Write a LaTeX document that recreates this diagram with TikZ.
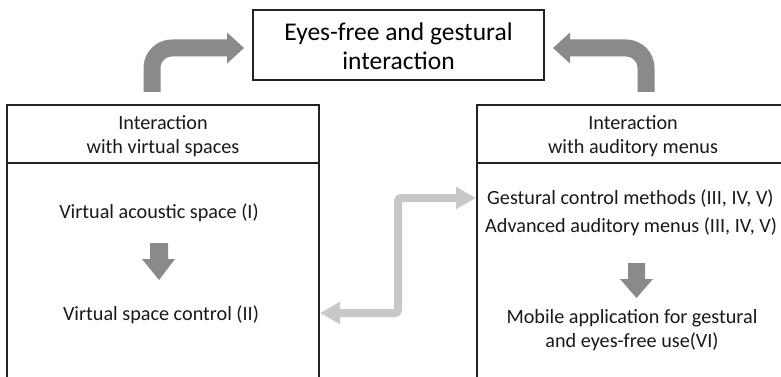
\documentclass[tikz,border=0pt]{standalone}
\usepackage{fontspec}
\setmainfont{Carlito}
\usetikzlibrary{arrows.meta}
\definecolor{darkarrow}{HTML}{8A8A8A}
\definecolor{lightarrow}{HTML}{C8C8C8}
\definecolor{boxline}{HTML}{222222}
\begin{document}
\begin{tikzpicture}[x=1pt,y=-1pt,
  boxframe/.style={draw=boxline,line width=1.4pt},
  bodytext/.style={font=\fontsize{20.2}{24}\selectfont,inner sep=0pt,align=center,text=black!90},
  titletext/.style={font=\fontsize{25.5}{29}\selectfont,inner sep=0pt,align=center},
  bentarrow/.style={darkarrow,line width=17pt,rounded corners=20pt,
    -{Triangle[length=17pt 0 0,width=30pt 0 0]}},
  linkarrow/.style={lightarrow,line width=8pt,rounded corners=3pt,
    {Triangle[length=20pt 0 0,width=21pt 0 0]}-{Triangle[length=20pt 0 0,width=21pt 0 0]}},
]
\useasboundingbox (0,0) rectangle (781,377);
\fill[white] (0,0) rectangle (781,377);

% title box
\draw[boxframe] (253,10) rectangle (544,80);
\node[titletext] (title) at (398.5,46) {Eyes-free and gestural\\interaction};
\coordinate (tl) at (244,48);
\coordinate (tr) at (553,48);

% left box
\draw[boxframe] (7,105) rectangle (319,400);
\draw[boxframe] (7,163) -- (319,163);
\node[bodytext] (lhead) at (163,136) {Interaction\\with virtual spaces};
\node[bodytext] (vas) at (159,213) {Virtual acoustic space (I)};
\node[bodytext] (vsc) at (161,315) {Virtual space control (II)};

% right box
\draw[boxframe] (477,105) rectangle (790,400);
\draw[boxframe] (477,163) -- (790,163);
\node[bodytext] (rhead) at (633,136) {Interaction\\with auditory menus};
\node[bodytext,anchor=west] (gcm) at (487,199) {Gestural control methods (III, IV, V)};
\node[bodytext,anchor=west] (aam) at (485,227) {Advanced auditory menus (III, IV, V)};
\node[bodytext] (mob) at (632,330) {Mobile application for gestural\\and eyes-free use(VI)};

% bent arrows to title
\coordinate (lb) at (152,92);
\coordinate (rb) at (646,92);
\draw[bentarrow] (lb) -- (152,48) -- (tl);
\draw[bentarrow] (rb) -- (646,48) -- (tr);

% down arrows
\fill[darkarrow] (150,243) -- (168,243) -- (168,259) -- (175,259) -- (159,280) -- (142,259) -- (150,259) -- cycle;
\fill[darkarrow] (628,263) -- (645,263) -- (645,279) -- (653,279) -- (636.5,298) -- (620,279) -- (628,279) -- cycle;

% link arrow between boxes
\coordinate (la) at (320,313);
\coordinate (ra) at (476,198);
\draw[linkarrow] (la) -- (398,313) -- (398,198) -- (ra);
\end{tikzpicture}
\end{document}
